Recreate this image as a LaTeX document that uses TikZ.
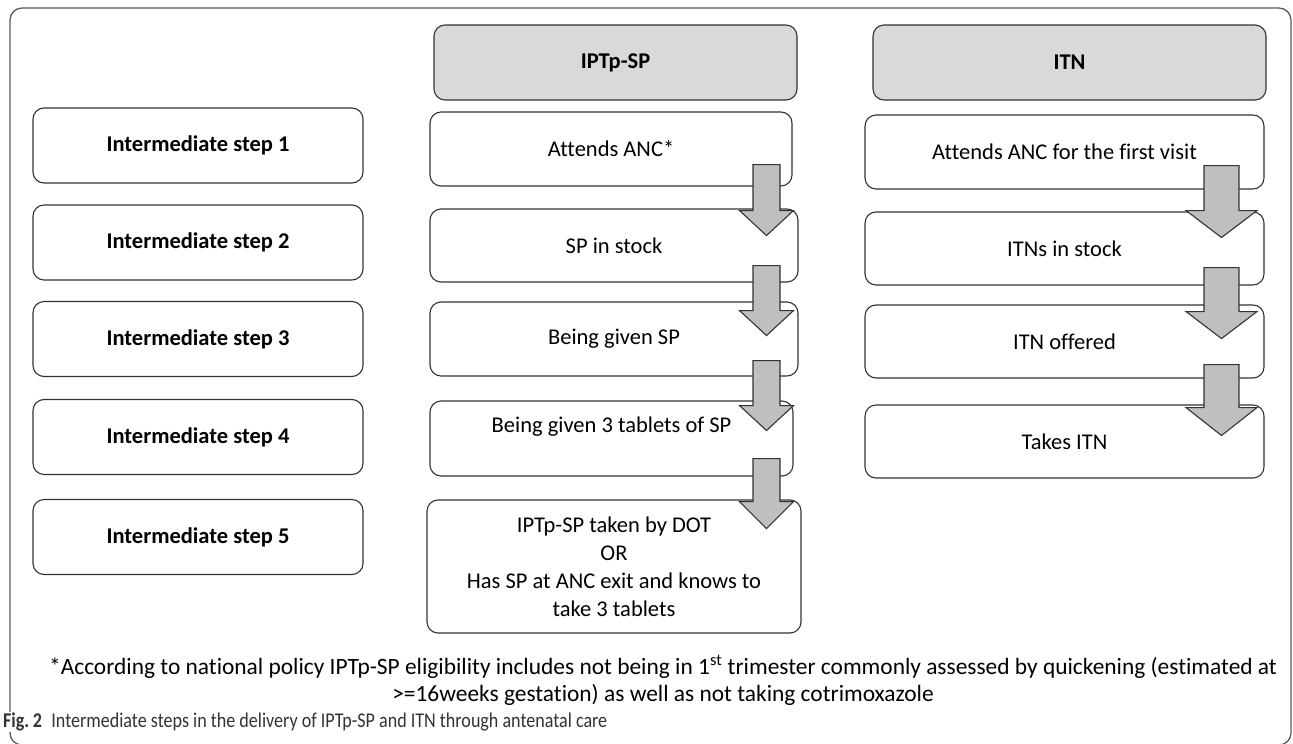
\documentclass[tikz,border=0pt]{standalone}
\usepackage{fontspec}
\setmainfont{Carlito}[Ligatures=NoCommon]
\newfontfamily\capfont[FakeStretch=0.86,Ligatures=NoCommon]{Carlito}
\usepackage{xcolor}
\usepackage{tikz}
\usetikzlibrary{calc}

\definecolor{headgray}{HTML}{D9D9D9}
\definecolor{arrowgray}{HTML}{BFBFBF}
\definecolor{boxline}{HTML}{333333}
\definecolor{framegray}{HTML}{5A5A5A}

% block arrow: top point, shaft half width, head half width, length, head length
\newcommand{\blockarrow}[5]{%
  \filldraw[arrowbody] (#1) ++({-#2},0) -- ++({2*#2},0) -- ++(0,{#4-#5})
    -- ++({#3-#2},0) -- ++({-#3},#5) -- ++({-#3},{-#5}) -- ++({#3-#2},0) -- cycle;}

\begin{document}
\begin{tikzpicture}[x=1pt,y=-1pt,
            every node/.style={font=\fontsize{22.5}{28}\selectfont}]
        \tikzstyle{stepbox}=[draw=boxline,line width=1.1pt,rounded corners=11pt,
                             minimum height=74pt,align=center,inner sep=0pt]
        \tikzstyle{headbox}=[stepbox,fill=headgray,minimum height=75pt,
                             font=\fontsize{22.5}{28}\selectfont\bfseries]
        \tikzstyle{arrowbody}=[draw=boxline,fill=arrowgray,line width=1.1pt]

        \useasboundingbox (0,0) rectangle (1293,744);
        \draw[framegray,line width=1.3pt,rounded corners=12pt] (10,8) rectangle (1291,745);

        % left column
        \foreach \i/\y in {1/145.5,2/242.5,3/339,4/437,5/537}
            \node[stepbox,minimum width=330pt,minimum height=75pt,
                  font=\fontsize{22.5}{28}\selectfont\bfseries] (s\i) at (198,\y) {Intermediate step \i};

        % IPTp-SP column
        \node[headbox,minimum width=363pt] (ipt) at (615.5,62.5) {IPTp-SP};
        \node[stepbox,minimum width=362pt] (m1) at (611,149) {Attends ANC*};
        \node[stepbox,minimum width=368pt,minimum height=73pt] (m2) at (614,245.5) {SP in stock};
        \node[stepbox,minimum width=368pt] (m3) at (614,339) {Being given SP};
        \node[stepbox,minimum width=363pt,minimum height=75pt] (m4) at (611.5,438.5)
            {Being given 3 tablets of SP\\ \phantom{S}};
        \node[stepbox,minimum width=374pt,minimum height=133pt] (m5) at (614,566.5)
            {IPTp-SP taken by DOT\\OR\\Has SP at ANC exit and knows to\\take 3 tablets};

        % ITN column
        \node[headbox,minimum width=393pt] (itn) at (1069.5,62.5) {ITN};
        \node[stepbox,minimum width=399pt] (r1) at (1064.5,152) {Attends ANC for the first visit};
        \node[stepbox,minimum width=399pt,minimum height=73pt] (r2) at (1064.5,248.5) {ITNs in stock};
        \node[stepbox,minimum width=399pt,minimum height=73pt] (r3) at (1064.5,341.5) {ITN offered};
        \node[stepbox,minimum width=399pt,minimum height=73pt] (r4) at (1064.5,441.5) {Takes ITN};

        \coordinate (mx) at (766.5,0);
        \coordinate (rx) at (1221.5,0);
        \blockarrow{$(m1.south -| mx)+(0,-22)$}{13.5}{27}{71}{25}
        \blockarrow{$(m2.south -| mx)+(0,-17)$}{13.5}{27}{70}{25}
        \blockarrow{$(m3.south -| mx)+(0,-16)$}{13.5}{27}{70}{25}
        \blockarrow{$(m4.south -| mx)+(0,-18)$}{13.5}{27}{70}{27}
        \blockarrow{$(r1.south -| rx)+(0,-24)$}{17.5}{35.5}{72}{27}
        \blockarrow{$(r2.south -| rx)+(0,-18)$}{17.5}{35.5}{71}{27}
        \blockarrow{$(r3.south -| rx)+(0,-14)$}{17.5}{35.5}{71}{28}

        \node[align=center,font=\fontsize{23.4}{27}\selectfont] (note) at (663,680.5)
            {*According to national policy IPTp-SP eligibility includes not being in 1\textsuperscript{st} trimester commonly assessed by quickening (estimated at\\
             >=16weeks gestation) as well as not taking cotrimoxazole};
        \node[anchor=west,fill=white,inner sep=1pt,text=boxline,
              font=\capfont\fontsize{21}{24}\selectfont] (cap) at (2,722)
            {\textbf{Fig.\,2}\hspace{0.45em}Intermediate steps in the delivery of IPTp-SP and ITN through antenatal care};
    \end{tikzpicture}
\end{document}
